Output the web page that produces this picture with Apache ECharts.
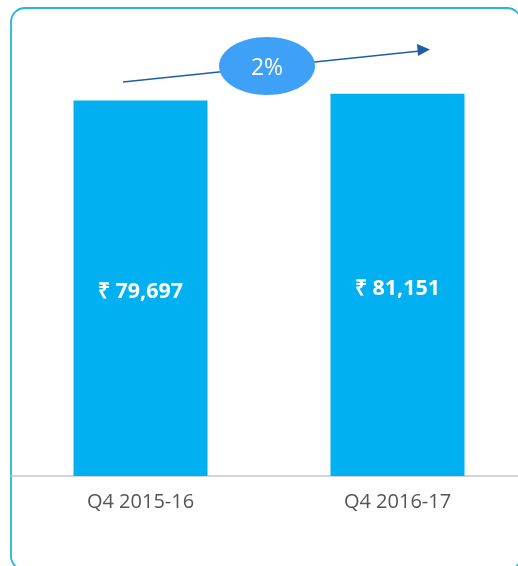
<!DOCTYPE html>
<html><head><meta charset="utf-8">
<script src="https://cdn.jsdelivr.net/npm/echarts@6/dist/echarts.min.js"></script>
<style>html,body{margin:0;padding:0;background:#fff;overflow:hidden;width:518px;height:566px}#c{width:526px;height:566px}</style>
</head><body><div id="c"></div>
<script>
const categories = ['Q4 2015-16', 'Q4 2016-17'];
const values = [79697, 81151];
const growthLabel = '2%';

const chart = echarts.init(document.getElementById('c'));
chart.setOption({
  animation: false,
  grid: { left: 12, right: 0, top: 52, height: 424, containLabel: false },
  xAxis: {
    type: 'category', data: categories,
    axisLine: { lineStyle: { color: '#d3d3d3', width: 2 } },
    axisTick: { show: false },
    axisLabel: { color: '#555555', fontSize: 20, fontFamily: 'Open Sans', margin: 16 }
  },
  yAxis: { type: 'value', min: 0, max: 90000, show: false, splitLine: { show: false } },
  series: [{
    type: 'bar', data: values, barWidth: 134,
    itemStyle: { color: '#00B0F0' },
    label: {
      show: true, position: 'inside', offset: [0, 4], color: '#ffffff', fontSize: 21.5, fontWeight: 'bold',
      fontFamily: 'Open Sans',
      formatter: p => '₹ ' + p.value.toLocaleString('en-US')
    }
  }],
  graphic: [
    { type: 'rect', shape: { x: 11, y: 8, width: 510, height: 562, r: 14 },
      style: { fill: 'none', stroke: '#22B4E6', lineWidth: 1.8 }, silent: true },
    { type: 'line', shape: { x1: 123, y1: 82, x2: 420, y2: 51 },
      style: { stroke: '#1F5DAA', lineWidth: 1.5 } },
    { type: 'polygon', shape: { points: [[430, 49.5], [417, 44], [418, 56]] },
      style: { fill: '#1F5DAA' } },
    { type: 'ellipse', shape: { cx: 267, cy: 66, rx: 48, ry: 29 },
      style: { fill: '#3FA0F7' } },
    { type: 'text', x: 267, y: 68,
      style: { text: growthLabel, fill: '#ffffff', fontSize: 23, fontFamily: 'Open Sans', align: 'center', verticalAlign: 'middle' } }
  ]
});
</script></body></html>
